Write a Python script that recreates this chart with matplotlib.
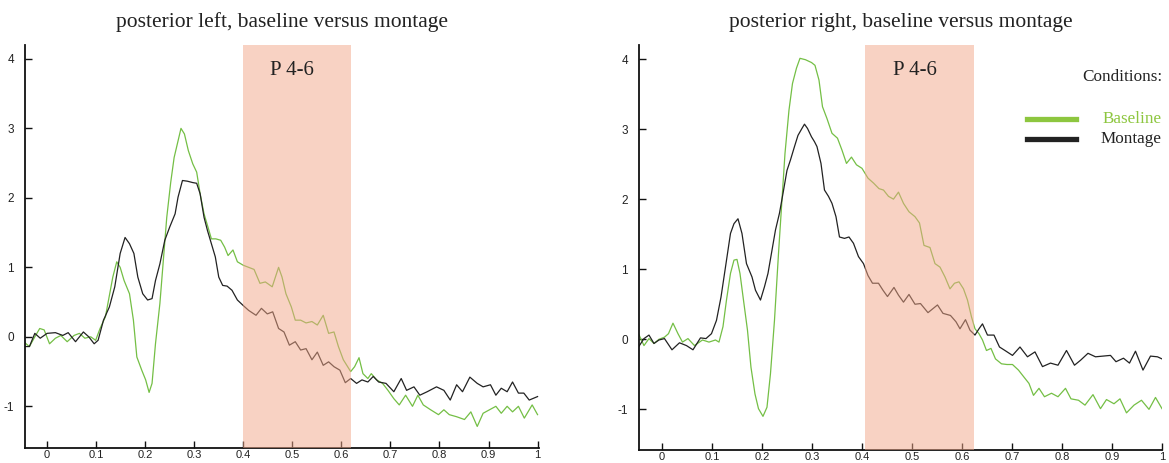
import numpy as np
import matplotlib
matplotlib.use("Agg")
import matplotlib.pyplot as plt
from matplotlib.lines import Line2D

# ---- data (time in s, amplitude) ----
t_left_mont = [-0.048, -0.036, -0.025, -0.014, 0.0, 0.017, 0.032, 0.043, 0.058, 0.074, 0.085, 0.096,
               0.104, 0.115, 0.127, 0.138, 0.149, 0.159, 0.168, 0.177, 0.185, 0.195, 0.205, 0.214,
               0.221, 0.230, 0.240, 0.250, 0.261, 0.267, 0.276, 0.286, 0.297, 0.305, 0.312, 0.320,
               0.327, 0.335, 0.343, 0.350, 0.358, 0.367, 0.377, 0.388, 0.400, 0.411, 0.426, 0.437,
               0.449, 0.460, 0.472, 0.483, 0.494, 0.506, 0.517, 0.528, 0.540, 0.551, 0.563, 0.574,
               0.585, 0.597, 0.608, 0.619, 0.631, 0.642, 0.654, 0.665, 0.676, 0.691, 0.707, 0.722,
               0.733, 0.748, 0.760, 0.775, 0.794, 0.809, 0.822, 0.835, 0.847, 0.862, 0.877, 0.889,
               0.904, 0.915, 0.926, 0.938, 0.949, 0.961, 0.972, 0.983, 1.0]
v_left_mont = [-0.14, -0.14, 0.05, -0.02, 0.05, 0.06, 0.02, 0.06, -0.07, 0.07, 0.0, -0.10,
               -0.05, 0.24, 0.43, 0.72, 1.20, 1.43, 1.34, 1.20, 0.86, 0.62, 0.53, 0.55,
               0.81, 1.05, 1.39, 1.58, 1.77, 2.01, 2.25, 2.24, 2.22, 2.21, 2.06, 1.72,
               1.53, 1.34, 1.15, 0.86, 0.74, 0.73, 0.67, 0.53, 0.45, 0.38, 0.31, 0.41,
               0.33, 0.36, 0.12, 0.07, -0.12, -0.07, -0.19, -0.17, -0.33, -0.22, -0.41, -0.36,
               -0.43, -0.48, -0.66, -0.60, -0.67, -0.62, -0.65, -0.57, -0.65, -0.67, -0.79, -0.60,
               -0.77, -0.72, -0.84, -0.79, -0.72, -0.77, -0.91, -0.69, -0.79, -0.58, -0.67, -0.72,
               -0.69, -0.84, -0.74, -0.79, -0.65, -0.81, -0.81, -0.91, -0.86]

t_left_base = [-0.048, -0.036, -0.025, -0.015, -0.006, 0.005, 0.017, 0.028, 0.041, 0.055, 0.066, 0.077,
               0.089, 0.099, 0.108, 0.119, 0.129, 0.134, 0.142, 0.149, 0.157, 0.168, 0.176, 0.183,
               0.193, 0.201, 0.208, 0.214, 0.221, 0.230, 0.237, 0.244, 0.252, 0.259, 0.267, 0.273,
               0.280, 0.288, 0.297, 0.305, 0.312, 0.320, 0.328, 0.335, 0.344, 0.354, 0.362, 0.369,
               0.379, 0.388, 0.400, 0.411, 0.422, 0.434, 0.445, 0.459, 0.472, 0.479, 0.487, 0.498,
               0.506, 0.517, 0.528, 0.540, 0.551, 0.563, 0.574, 0.585, 0.594, 0.604, 0.619, 0.627,
               0.636, 0.644, 0.654, 0.661, 0.672, 0.684, 0.695, 0.707, 0.718, 0.731, 0.745, 0.756,
               0.767, 0.782, 0.798, 0.809, 0.820, 0.835, 0.851, 0.864, 0.877, 0.889, 0.902, 0.915,
               0.926, 0.938, 0.949, 0.961, 0.973, 0.989, 1.0]
v_left_base = [-0.07, -0.14, 0.0, 0.12, 0.10, -0.10, -0.02, 0.02, -0.07, 0.02, 0.05, -0.02,
               0.0, -0.05, 0.12, 0.29, 0.67, 0.86, 1.08, 1.00, 0.81, 0.62, 0.24, -0.29,
               -0.48, -0.62, -0.80, -0.67, -0.10, 0.48, 1.10, 1.72, 2.22, 2.58, 2.82, 3.00,
               2.92, 2.68, 2.49, 2.37, 2.06, 1.77, 1.58, 1.41, 1.41, 1.39, 1.29, 1.17,
               1.25, 1.08, 1.03, 1.00, 0.97, 0.77, 0.79, 0.72, 1.00, 0.86, 0.62, 0.43,
               0.24, 0.24, 0.20, 0.22, 0.17, 0.31, 0.05, 0.07, -0.14, -0.33, -0.50, -0.43,
               -0.30, -0.53, -0.60, -0.53, -0.62, -0.67, -0.77, -0.89, -0.98, -0.84, -1.00, -0.84,
               -0.98, -1.05, -1.12, -1.05, -1.12, -1.15, -1.19, -1.08, -1.29, -1.10, -1.05, -1.00,
               -1.10, -1.00, -1.08, -1.00, -1.17, -0.98, -1.12]

t_right_mont = [-0.047, -0.036, -0.026, -0.016, -0.006, 0.005, 0.020, 0.035, 0.049, 0.062, 0.077, 0.088,
                0.099, 0.109, 0.118, 0.127, 0.137, 0.144, 0.152, 0.160, 0.169, 0.180, 0.187, 0.197,
                0.205, 0.212, 0.220, 0.227, 0.235, 0.242, 0.250, 0.257, 0.265, 0.272, 0.280, 0.285,
                0.291, 0.299, 0.305, 0.310, 0.318, 0.325, 0.333, 0.340, 0.348, 0.355, 0.365, 0.374,
                0.383, 0.393, 0.403, 0.412, 0.421, 0.433, 0.442, 0.451, 0.464, 0.473, 0.483, 0.494,
                0.506, 0.517, 0.532, 0.551, 0.562, 0.577, 0.588, 0.596, 0.607, 0.616, 0.626, 0.634,
                0.641, 0.651, 0.664, 0.675, 0.686, 0.701, 0.716, 0.731, 0.746, 0.761, 0.777, 0.792,
                0.809, 0.825, 0.837, 0.852, 0.867, 0.882, 0.897, 0.908, 0.923, 0.935, 0.947, 0.962,
                0.977, 0.991, 1.0]
v_right_mont = [-0.11, 0.01, 0.06, -0.06, -0.01, 0.01, -0.15, -0.05, -0.09, -0.15, 0.02, 0.01,
                0.08, 0.27, 0.60, 1.03, 1.51, 1.65, 1.72, 1.51, 1.08, 0.89, 0.70, 0.56,
                0.75, 0.94, 1.27, 1.56, 1.80, 2.08, 2.41, 2.56, 2.75, 2.91, 3.01, 3.07,
                3.01, 2.89, 2.82, 2.75, 2.51, 2.13, 2.04, 1.94, 1.75, 1.46, 1.44, 1.46,
                1.37, 1.18, 1.08, 0.91, 0.80, 0.80, 0.70, 0.61, 0.74, 0.63, 0.53, 0.64,
                0.50, 0.51, 0.38, 0.49, 0.37, 0.34, 0.25, 0.15, 0.28, 0.13, 0.06, 0.15,
                0.22, 0.06, 0.06, -0.11, -0.16, -0.23, -0.11, -0.25, -0.18, -0.39, -0.34, -0.37,
                -0.16, -0.37, -0.30, -0.20, -0.25, -0.24, -0.23, -0.32, -0.27, -0.34, -0.17, -0.44,
                -0.24, -0.25, -0.28]

t_right_base = [-0.047, -0.036, -0.026, -0.016, -0.006, 0.005, 0.013, 0.022, 0.032, 0.041, 0.052, 0.065,
                0.081, 0.094, 0.107, 0.114, 0.122, 0.129, 0.137, 0.144, 0.150, 0.156, 0.163, 0.171,
                0.178, 0.186, 0.193, 0.202, 0.210, 0.217, 0.225, 0.233, 0.240, 0.246, 0.254, 0.261,
                0.269, 0.276, 0.287, 0.299, 0.306, 0.314, 0.321, 0.330, 0.340, 0.351, 0.360, 0.369,
                0.379, 0.389, 0.400, 0.412, 0.423, 0.434, 0.443, 0.453, 0.463, 0.473, 0.483, 0.494,
                0.506, 0.515, 0.524, 0.536, 0.546, 0.556, 0.566, 0.576, 0.585, 0.594, 0.603, 0.611,
                0.619, 0.626, 0.634, 0.641, 0.649, 0.658, 0.667, 0.679, 0.690, 0.701, 0.713, 0.724,
                0.734, 0.743, 0.754, 0.765, 0.779, 0.792, 0.807, 0.818, 0.833, 0.846, 0.862, 0.877,
                0.889, 0.904, 0.916, 0.929, 0.944, 0.959, 0.974, 0.987, 1.0]
v_right_base = [0.08, -0.09, 0.01, -0.06, 0.0, 0.03, 0.08, 0.23, 0.08, -0.04, 0.01, -0.09,
                -0.01, -0.04, -0.01, -0.04, 0.18, 0.56, 0.94, 1.13, 1.14, 0.94, 0.56, 0.13,
                -0.40, -0.78, -0.99, -1.10, -0.97, -0.49, 0.27, 1.22, 1.99, 2.65, 3.27, 3.65,
                3.87, 4.01, 3.99, 3.95, 3.91, 3.70, 3.32, 3.15, 2.94, 2.87, 2.70, 2.51,
                2.60, 2.49, 2.44, 2.30, 2.23, 2.15, 2.13, 2.04, 2.00, 2.10, 1.94, 1.82,
                1.75, 1.66, 1.34, 1.31, 1.08, 1.03, 0.89, 0.72, 0.80, 0.82, 0.72, 0.56,
                0.32, 0.15, 0.08, -0.01, -0.16, -0.13, -0.28, -0.35, -0.36, -0.36, -0.44, -0.54,
                -0.63, -0.80, -0.70, -0.82, -0.77, -0.82, -0.70, -0.85, -0.87, -0.94, -0.79, -0.99,
                -0.86, -0.92, -0.85, -1.05, -0.94, -0.87, -1.00, -0.83, -0.99]

window_left = (0.400, 0.619)
window_right = (0.407, 0.624)
window_label = "P 4-6"
titles = ["posterior left, baseline versus montage",
          "posterior right, baseline versus montage"]
conditions = ["Baseline", "Montage"]

x_ticks = np.round(np.arange(0, 1.01, 0.1), 1)
x_tick_labels = ["0", "0.1", "0.2", "0.3", "0.4", "0.5", "0.6", "0.7", "0.8", "0.9", "1"]
y_ticks = [-1, 0, 1, 2, 3, 4]
y_tick_labels = ["-1", "0", "1", "2", "3", "4"]

GREEN = "#74bf45"
BLACK = "#222222"
LEG_GREEN = "#8dc63f"
SHADE = "#f3a789"
SERIF = ["Liberation Serif", "DejaVu Serif"]
SANS = ["Liberation Sans Narrow", "Liberation Sans", "DejaVu Sans"]

fig = plt.figure(figsize=(11.69, 4.63), dpi=100)
ax_l = fig.add_axes([0.0214, 0.0324, 0.4397, 0.8704])
ax_r = fig.add_axes([0.5466, 0.0281, 0.4474, 0.8747])


def style_panel(ax, xlim, ylim):
    ax.set_xlim(*xlim)
    ax.set_ylim(*ylim)
    for s in ("top", "right"):
        ax.spines[s].set_visible(False)
    for s in ("left", "bottom"):
        ax.spines[s].set_linewidth(1.3)
        ax.spines[s].set_color("#111111")
    ax.set_xticks(x_ticks)
    ax.set_xticklabels(x_tick_labels)
    ax.set_yticks(y_ticks)
    ax.set_yticklabels(y_tick_labels)
    ax.tick_params(direction="in", length=5, width=1, colors="#111111",
                   labelsize=8, pad=1.5)
    for lab in ax.get_xticklabels() + ax.get_yticklabels():
        lab.set_family(SANS)
        lab.set_color("#222222")
    ax.tick_params(axis="y", pad=8, labelsize=8.5)


panels = [
    (ax_l, t_left_base, v_left_base, t_left_mont, v_left_mont, window_left,
     (-0.045, 1.003), (-1.60, 4.20), titles[0]),
    (ax_r, t_right_base, v_right_base, t_right_mont, v_right_mont, window_right,
     (-0.046, 1.0), (-1.58, 4.20), titles[1]),
]

for ax, tb, vb, tm, vm, win, xl, yl, title in panels:
    ax.plot(tb, vb, color=GREEN, lw=0.9, zorder=2)
    ax.plot(tm, vm, color=BLACK, lw=0.9, zorder=2)
    # shaded time window drawn over the traces, like the original
    ax.axvspan(win[0], win[1], color=SHADE, alpha=0.5, lw=0, zorder=3)
    ax.text((win[0] + win[1]) / 2 - 0.01, 3.83, window_label, ha="center", va="center",
            fontsize=15, family=SERIF, color="#222222", zorder=4)
    style_panel(ax, xl, yl)
    pos = ax.get_position()
    fig.text(pos.x0 + pos.width / 2, 0.952, title, ha="center", va="center",
             fontsize=15.5, family=SERIF, color="#222222")

# legend (manual, to keep the right-aligned look)
fig.text(0.994, 1 - 77 / 463, "Conditions:", ha="right", va="center",
         fontsize=12.3, family=SERIF, color="#222222")
leg_colors = [LEG_GREEN, BLACK]
for i, (name, col) in enumerate(zip(conditions, leg_colors)):
    y = 1 - (119 + 20 * i) / 463
    fig.add_artist(Line2D([1027 / 1169, 1076 / 1169], [y, y], color=col, lw=3.8,
                          transform=fig.transFigure))
    fig.text(0.994, y, name, ha="right", va="center", fontsize=12.3,
             family=SERIF, color=LEG_GREEN if i == 0 else "#222222")

fig.savefig("out.png", dpi=100)
